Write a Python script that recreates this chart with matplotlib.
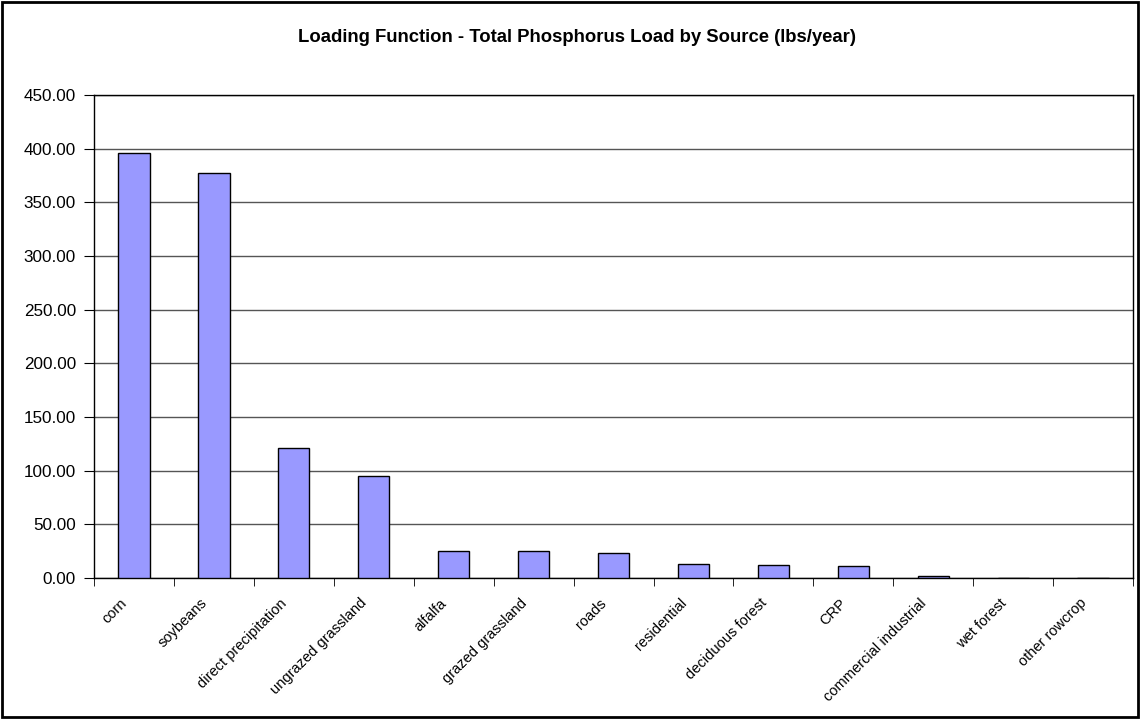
import matplotlib.pyplot as plt
from matplotlib.transforms import ScaledTranslation
import numpy as np

sources = ['corn', 'soybeans', 'direct precipitation', 'ungrazed grassland',
           'alfalfa', 'grazed grassland', 'roads', 'residential',
           'deciduous forest', 'CRP', 'commercial industrial', 'wet forest',
           'other rowcrop']
loads = [396.0, 377.0, 121.0, 95.0, 25.0, 25.0, 23.7, 13.2, 11.7, 10.8, 1.5, 0.0, 0.0]
yticks = np.arange(0, 451, 50)

plt.rcParams['font.family'] = ['Liberation Sans', 'DejaVu Sans']

fig = plt.figure(figsize=(11.4, 7.19), dpi=100)
ax = fig.add_axes([0.0825, 0.1961, 0.9114, 0.6718])

x = np.arange(len(sources))
ax.bar(x, loads, width=0.39, color='#9999ff', edgecolor='black', linewidth=1.0, zorder=3)

ax.set_xlim(-0.5, len(sources) - 0.5)
ax.set_ylim(0, 450)
ax.set_yticks(yticks)
ax.set_yticklabels(['%.2f' % v for v in yticks], fontsize=12.3)
ax.yaxis.grid(True, color='#555555', linewidth=1.0, zorder=0)

ax.set_xticks(x)
ax.set_xticklabels(sources, rotation=45, ha='right', rotation_mode='anchor', fontsize=10.5)
ax.tick_params(axis='x', length=0, pad=13)
ax.set_xticks(np.arange(-0.5, len(sources), 1.0), minor=True)
ax.tick_params(axis='x', which='minor', length=6, direction='out', color='black')
ax.tick_params(axis='y', length=7, direction='out', color='black', pad=6)

# nudge the slanted labels left like the original
shift = ScaledTranslation(-0.14, 0, fig.dpi_scale_trans)
for lbl in ax.get_xticklabels():
    lbl.set_transform(lbl.get_transform() + shift)

for s in ax.spines.values():
    s.set_color('black')
    s.set_linewidth(1.0)

fig.text(0.506, 0.948, 'Loading Function - Total Phosphorus Load by Source (lbs/year)',
         ha='center', va='center', fontsize=13.3, fontweight='bold')

# outer chart border
fig.patches.append(plt.Rectangle((0.002, 0.003), 0.996, 0.994, transform=fig.transFigure,
                                 fill=False, edgecolor='black', linewidth=2.0))

fig.savefig('out.png', dpi=100)
